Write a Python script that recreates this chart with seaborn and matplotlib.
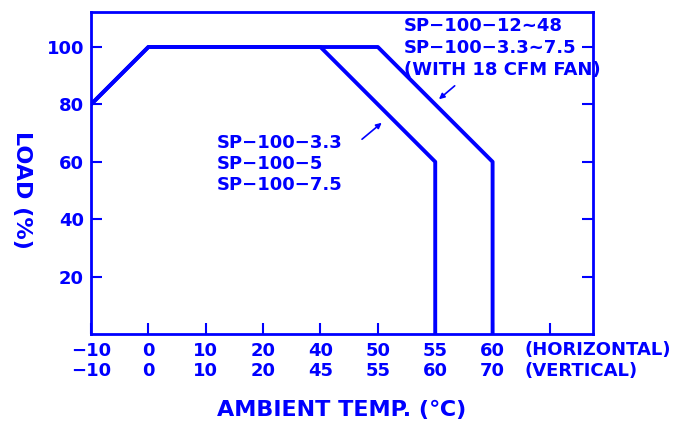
import numpy as np
import pandas as pd
import seaborn as sb
import matplotlib.pyplot as plt

# derating curves, x is the position on the temperature scale
horizontal_temp = ["−10", "0", "10", "20", "40", "50", "55", "60", ""]
vertical_temp = ["−10", "0", "10", "20", "45", "55", "60", "70", ""]

curve_a_x = [0, 1, 4, 6, 6]      # SP-100-3.3 / 5 / 7.5
curve_a_load = [80, 100, 100, 60, 0]
curve_b_x = [0, 1, 5, 7, 7]      # SP-100-12~48, with fan
curve_b_load = [80, 100, 100, 60, 0]

load_ticks = [20, 40, 60, 80, 100]

blue = "#0000ff"

sb.set_style("ticks")
plt.rcParams["font.family"] = ["DejaVu Sans"]
plt.rcParams["font.weight"] = "bold"

W, H = 675, 424
fig = plt.figure(figsize=(6.75, 4.24), dpi=100)
ax = fig.add_axes([91 / W, 90 / H, 502 / W, 322 / H])

df = pd.concat([
    pd.DataFrame({"pos": curve_a_x, "load": curve_a_load, "grp": "a"}),
    pd.DataFrame({"pos": curve_b_x, "load": curve_b_load, "grp": "b"}),
])
for g, sub in df.groupby("grp"):
    sb.lineplot(data=sub, x="pos", y="load", sort=False, estimator=None,
                color=blue, lw=2.8, ax=ax)

ax.set_xlim(0, 8.75)
ax.set_ylim(0, 112.2)
ax.set_xticks(range(9))
ax.set_xticklabels([h + "\n" + v for h, v in zip(horizontal_temp, vertical_temp)],
                   fontsize=13, color=blue, linespacing=1.15, fontweight="bold")
ax.set_yticks(load_ticks)
ax.set_yticklabels([str(t) for t in load_ticks], fontsize=13, color=blue,
                   fontweight="bold")
ax.tick_params(direction="in", length=8, width=1.5, color=blue, pad=5,
               right=True)
ax.tick_params(axis="x", pad=6)
for s in ax.spines.values():
    s.set_color(blue)
    s.set_linewidth(2)
ax.set_xlabel("")
ax.set_ylabel("")


def px(x, y):
    return x / W, 1 - y / H


fig.text(*px(525, 350), "(HORIZONTAL)", color=blue, fontsize=13,
         va="center", ha="left")
fig.text(*px(525, 371), "(VERTICAL)", color=blue, fontsize=13,
         va="center", ha="left")
fig.text(*px(342, 410), "AMBIENT TEMP. (℃)", color=blue, fontsize=16,
         va="center", ha="center")
fig.text(*px(22, 190), "LOAD (%)", color=blue, fontsize=16,
         va="center", ha="center", rotation=-90)

# labels inside the plot
fig.text(*px(404, 17), "SP−100−12~48\nSP−100−3.3~7.5\n(WITH 18 CFM FAN)",
         color=blue, fontsize=13, va="top", ha="left", linespacing=1.3)
fig.text(*px(217, 134), "SP−100−3.3\nSP−100−5\nSP−100−7.5",
         color=blue, fontsize=13, va="top", ha="left", linespacing=1.2)

ax.annotate("", xy=((384 - 91) / 57.4, (334 - 121) / 2.87),
            xytext=((360 - 91) / 57.4, (334 - 141) / 2.87),
            arrowprops=dict(arrowstyle="-|>", color=blue, lw=1.2,
                            mutation_scale=8))
ax.annotate("", xy=((437 - 91) / 57.4, (334 - 101) / 2.87),
            xytext=((457 - 91) / 57.4, (334 - 84) / 2.87),
            arrowprops=dict(arrowstyle="-|>", color=blue, lw=1.2,
                            mutation_scale=8))

fig.savefig("out.png", dpi=100)
